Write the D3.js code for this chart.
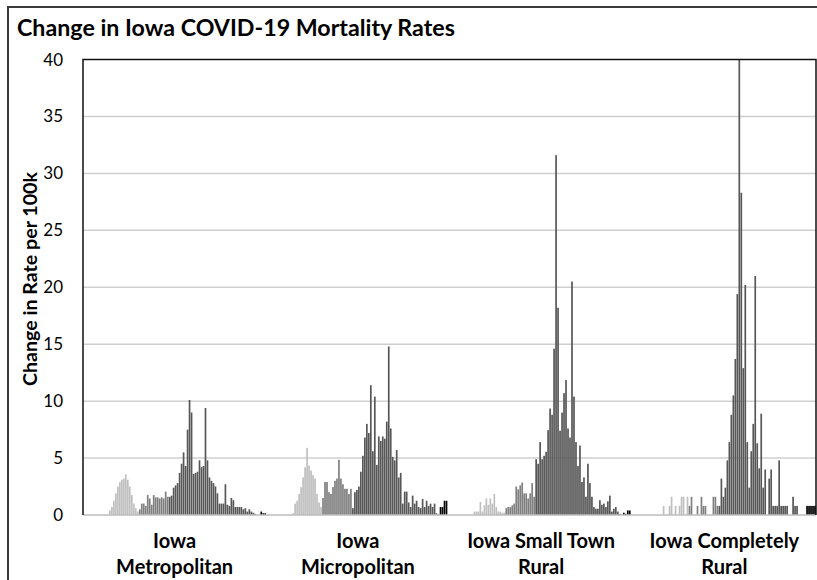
<!DOCTYPE html>
<html>
<head>
<meta charset="utf-8">
<script src="https://cdn.jsdelivr.net/npm/d3@7"></script>
<style>
body { margin: 0; background: #fff; }
text { font-family: Lato, "Open Sans", sans-serif; fill: #000; }
</style>
</head>
<body>
<svg width="817" height="580"></svg>
<script>

// category labels, one entry per line
var categories = [["Iowa", "Metropolitan"], ["Iowa", "Micropolitan"], ["Iowa Small Town", "Rural"], ["Iowa Completely", "Rural"]];

// weekly change in rate per 100k, 92 weeks per category
var metroValues = [
	0,0,0,0,0,0,0,0,0,0,0,0,0,
	0.4,0.7,1.25,1.9,2.5,2.9,3.1,3.2,3.57,3.1,2.5,1.75,1.0,0.6,0.3,
	0.5,1.0,1.0,0.8,1.75,1.45,0.9,1.75,1.55,1.55,1.45,1.55,1.45,2.05,1.6,
	1.6,1.7,2.4,2.6,2.8,3.7,4.5,5.5,4.3,7.5,10.1,9.0,3.6,3.7,3.8,4.8,4.2,4.3,9.4,4.8,3.3,3.0,2.8,2.5,1.9,1.0,1.0,1.0,2.7,0.9,0.8,1.5,1.3,0.7,0.7,0.7,0.7,0.5,0.6,0.3,0.5,0.3,0.2,0.1,
	0,0,0.3,0.15,0.15
];
var microValues = [
	0,0,0,0,0,0,0,0,0,0,0,0,0,
	0.15,1.0,1.25,1.85,2.45,3.3,4.2,5.9,4.35,3.9,3.5,3.2,1.85,1.1,0.7,
	1.5,2.9,2.9,2.0,1.85,2.45,3.0,3.2,4.85,3.2,2.7,2.3,2.3,1.85,2.3,
	0.6,2.0,2.2,2.5,3.8,5.2,6.8,8.0,7.2,11.4,5.6,10.4,4.4,6.9,6.5,6.9,6.7,8.2,14.8,7.6,5.1,4.8,5.7,3.3,3.7,1.0,2.05,2.05,1.1,0.7,1.7,1.0,1.25,0.7,0.6,1.4,0.7,1.25,0.8,1.0,0.7,1.0,0.15,0.05,
	0.7,0.7,1.25,1.25,0
];
var smallTownValues = [
	0,0,0,0,0,0,0,0,0,0,0,0,
	0.3,0.3,0.3,1.15,0.3,0.85,1.45,0.9,1.45,1.0,1.85,0.7,0.3,0.3,0.2,0.2,
	0.6,0.7,0.7,0.85,1.0,2.5,2.25,2.6,2.85,1.9,1.9,1.45,1.9,2.8,1.6,
	4.9,4.5,6.4,4.9,5.2,5.55,7.45,9.35,8.8,14.6,31.6,18.2,7.4,9.0,10.7,11.85,7.6,6.8,20.5,10.4,6.4,4.3,6.1,2.9,3.3,1.6,4.5,2.8,1.6,0.7,0.55,0.55,1.3,0.9,1.0,0.7,1.2,1.7,0.3,0.55,0.7,0.3,0.1,0,
	0.2,0.1,0.4,0.4,0
];
var ruralValues = [
	0,0,0,0,0,0,0,0,0,0,0,0,0,0,0,
	0.8,0,0,0.8,1.6,0,0.8,0,0.8,1.6,1.6,0,1.6,
	0.8,1.6,0,0,0.8,0,1.6,0.8,0.8,0,0,0,1.6,1.6,0.8,
	0.8,3.2,1.6,2.4,4.8,6.4,8.8,10.5,13.7,19.4,40,28.3,12.9,20.2,6.4,2.4,5.6,8.0,21.0,6.3,4.1,8.9,2.4,4.0,0,3.2,4.0,0.8,0.8,0.8,4.8,0.8,0.8,0.8,0.8,0,0,1.6,0.8,0.8,0,0,0,0,
	0.8,0.8,0.8,0.8,0.8
];

// first week index of each period (spring, summer, fall/winter, latest)
var periodStarts = [0, 28, 43, 87];
var yTicks = [0, 5, 10, 15, 20, 25, 30, 35, 40];

var seriesByCategory = [metroValues, microValues, smallTownValues, ruralValues];
var periodColors = ["#bfbfbf", "#7f7f7f", "#575757", "#000000"];

function periodOf(i) {
	var p = 0;
	periodStarts.forEach(function(s, k) { if (i >= s) p = k; });
	return p;
}

var svg = d3.select("svg");
var plotLeft = 83, plotRight = 816, plotTop = 59.5, plotBottom = 515;

// outer chart frame
svg.append("rect")
	.attr("x", 8).attr("y", 7)
	.attr("width", 900).attr("height", 700)
	.attr("fill", "none").attr("stroke", "#3a3a3a").attr("stroke-width", 2);

var x0 = d3.scaleBand().domain(d3.range(categories.length)).range([plotLeft, plotRight]).padding(0);
var x1 = d3.scaleBand().domain(d3.range(metroValues.length)).range([0, x0.bandwidth()]).padding(0);
var y = d3.scaleLinear().domain([0, 40]).range([plotBottom, plotTop]);

// gridlines
svg.append("g").selectAll("line")
	.data(yTicks.filter(function(t) { return t > 0 && t < 40; }))
	.enter().append("line")
	.attr("x1", plotLeft).attr("x2", plotRight)
	.attr("y1", function(d) { return y(d); })
	.attr("y2", function(d) { return y(d); })
	.attr("stroke", "#cfcfcf").attr("stroke-width", 1.5);

// bars
var groups = svg.append("g").selectAll("g")
	.data(seriesByCategory)
	.enter().append("g")
	.attr("transform", function(d, c) { return "translate(" + x0(c) + ",0)"; });

groups.selectAll("rect")
	.data(function(d) { return d; })
	.enter().append("rect")
	.attr("x", function(d, i) { return x1(i) + 0.15; })
	.attr("width", x1.bandwidth() - 0.3)
	.attr("y", function(d) { return y(d); })
	.attr("height", function(d) { return y(0) - y(d); })
	.attr("fill", function(d, i) { return periodColors[periodOf(i)]; });

// baseline and plot frame
svg.append("line")
	.attr("x1", plotLeft).attr("x2", plotRight).attr("y1", plotBottom).attr("y2", plotBottom)
	.attr("stroke", "#bdbdbd").attr("stroke-width", 1.5);
svg.append("path")
	.attr("d", "M" + plotLeft + "," + plotBottom + "V" + plotTop + "H" + plotRight + "V" + plotBottom)
	.attr("fill", "none").attr("stroke", "#111").attr("stroke-width", 1.5);

// y tick labels
svg.append("g").selectAll("text")
	.data(yTicks)
	.enter().append("text")
	.attr("x", 63)
	.attr("y", function(d) { return y(d) + 6; })
	.attr("text-anchor", "end")
	.style("font-size", "17px")
	.text(function(d) { return d; });

function fitText(sel, targetWidth) {
	var w = sel.node().getComputedTextLength();
	var fs = parseFloat(sel.style("font-size"));
	sel.style("font-size", (fs * targetWidth / w) + "px");
}

// title
var title = svg.append("text")
	.attr("x", 17).attr("y", 36)
	.style("font-size", "20px").style("font-weight", "bold")
	.text("Change in Iowa COVID-19 Mortality Rates");
fitText(title, 438);

// y axis title
var yTitle = svg.append("text")
	.attr("transform", "translate(37,279) rotate(-90)")
	.attr("text-anchor", "middle")
	.style("font-size", "16px").style("font-weight", "bold")
	.text("Change in Rate per 100k");
fitText(yTitle, 214);

// category labels
var probe = svg.append("text").style("font-size", "16px").style("font-weight", "bold").text("Iowa Small Town");
var catSize = 16 * 148 / probe.node().getComputedTextLength();
probe.remove();

categories.forEach(function(lines, c) {
	lines.forEach(function(line, k) {
		svg.append("text")
			.attr("x", x0(c) + x0.bandwidth() / 2)
			.attr("y", 548 + k * 26)
			.attr("text-anchor", "middle")
			.style("font-size", catSize + "px").style("font-weight", "bold")
			.text(line);
	});
});

</script>
</body>
</html>
